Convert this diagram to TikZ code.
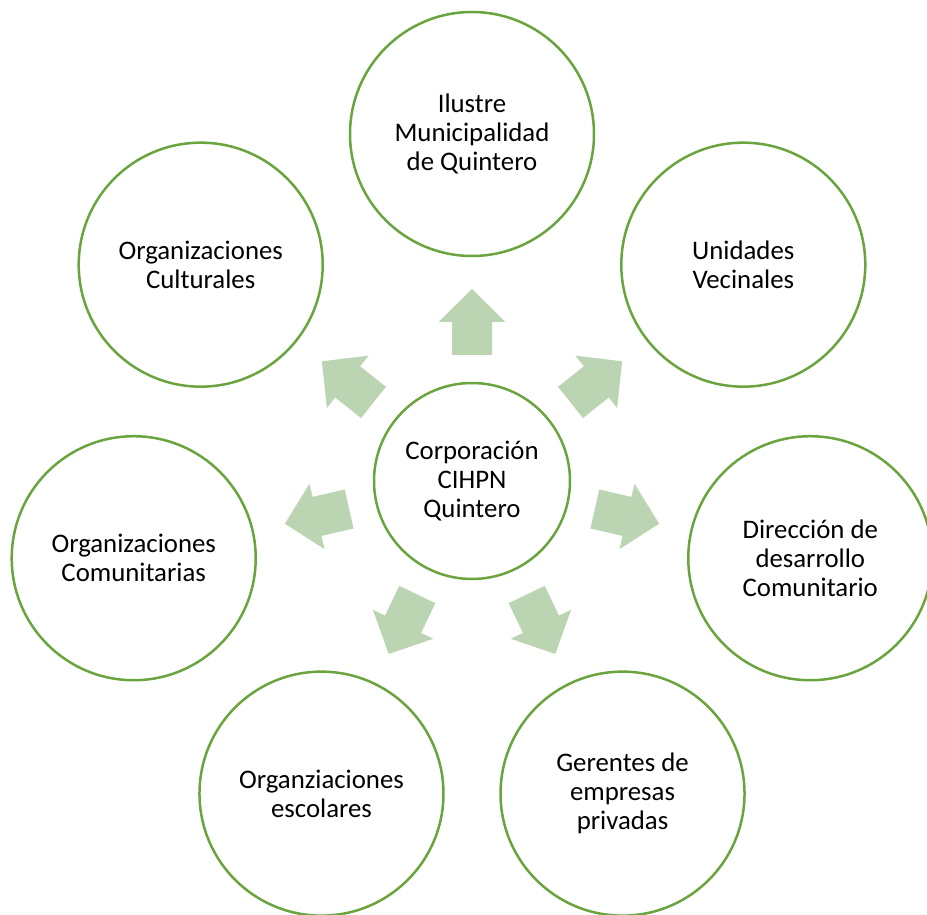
\documentclass[tikz,border=0pt]{standalone}
\usepackage{fontspec}
\setmainfont{Carlito}
\definecolor{ringgreen}{RGB}{106,164,62}
\definecolor{arrowgreen}{RGB}{187,213,179}
\begin{document}
\begin{tikzpicture}[x=1pt,y=1pt,
  bubble/.style={circle, draw=ringgreen, line width=2.5pt, fill=white,
    minimum size=244pt, inner sep=0pt, align=center,
    font=\fontsize{26.8}{29.2}\selectfont},
  hub/.style={bubble, minimum size=196pt},
  blockarrow/.style={fill=arrowgreen, draw=none}]
\useasboundingbox (0,0) rectangle (927,914);
\coordinate (C) at (472,433);
% outward block arrows
\foreach \a in {90,141.43,192.86,244.29,295.71,347.14,38.57}{
  \fill[blockarrow, shift={(C)}, rotate=\a]
    (126,-20) -- (159,-20) -- (159,-33.5) -- (192,0) -- (159,33.5) -- (159,20) -- (126,20) -- cycle;
}
\node[hub] (hub) at (C) {Corporación\\CIHPN\\Quintero};
\node[bubble] (muni) at ([shift={(90:347)}]C) {Ilustre\\Municipalidad\\de Quintero};
\node[bubble] (cult) at ([shift={(141.43:347)}]C) {Organizaciones\\Culturales};
\node[bubble] (comu) at ([shift={(192.86:347)}]C) {Organizaciones\\Comunitarias};
\node[bubble] (esco) at ([shift={(244.29:347)}]C) {Organziaciones\\escolares};
\node[bubble] (gere) at ([shift={(295.71:347)}]C) {Gerentes de\\empresas\\privadas};
\node[bubble] (dire) at ([shift={(347.14:347)}]C) {Dirección de\\desarrollo\\Comunitario};
\node[bubble] (unid) at ([shift={(38.57:347)}]C) {Unidades\\Vecinales};
\end{tikzpicture}
\end{document}
